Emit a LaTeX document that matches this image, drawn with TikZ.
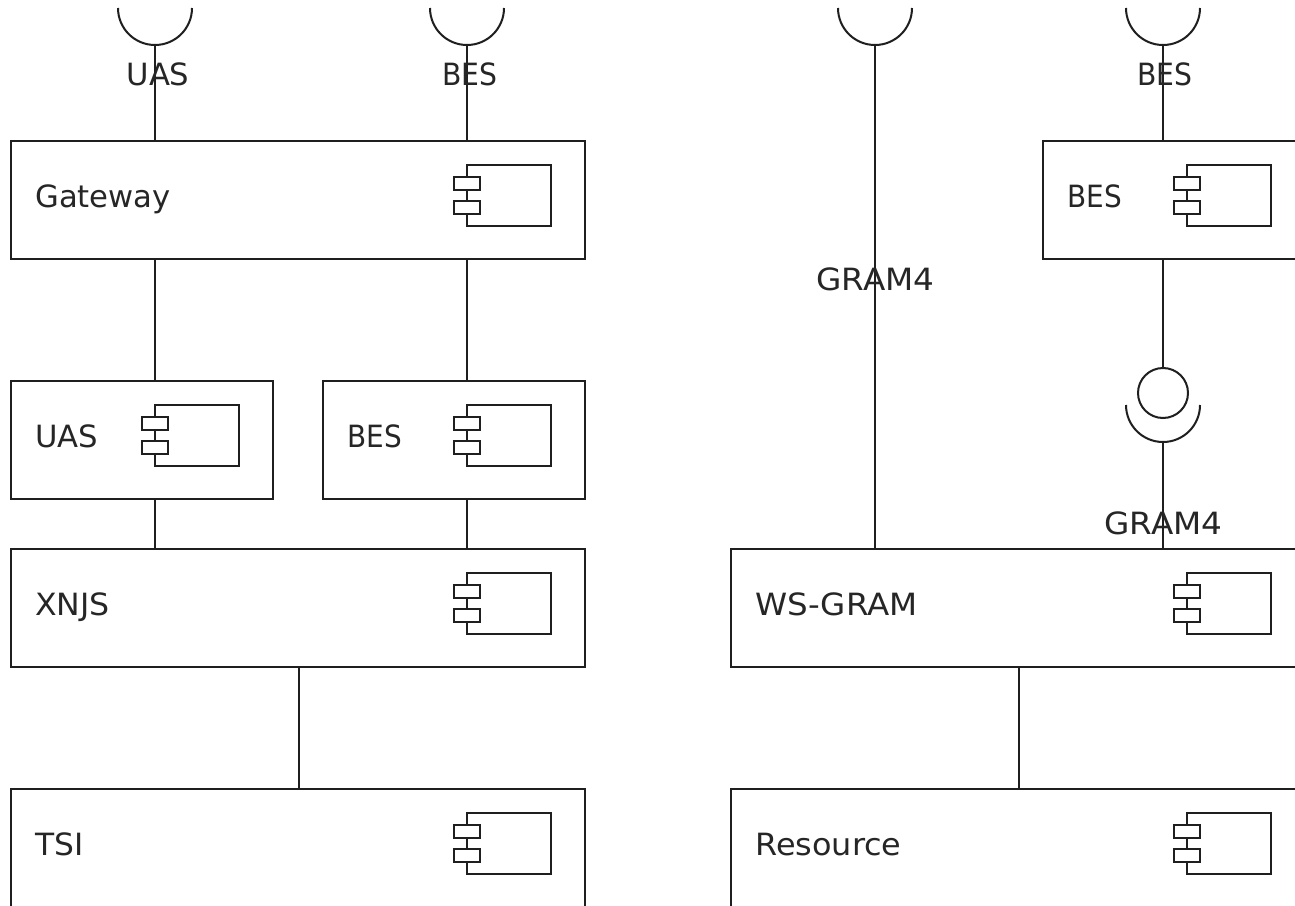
\documentclass[tikz,border=0pt]{standalone}
\usepackage{graphicx}
\usepackage{fontspec}
\setmainfont{DejaVu Sans}
\tikzset{
  px/.style={x=0.75pt,y=-0.75pt},
  wire/.style={line width=1.5pt,draw=black!88},
  compbox/.style={wire,rectangle,inner sep=0pt,outer sep=0pt,anchor=north west,minimum height=88.5pt},
  boxlabel/.style={anchor=base west,inner sep=0pt,text=black!85,font=\fontsize{23pt}{25pt}\selectfont},
  iflabel/.style={anchor=center,inner sep=0pt,text=black!85,font=\fontsize{23pt}{25pt}\selectfont},
  ball/.style={wire,circle,inner sep=0pt,outer sep=0pt,minimum size=37.5pt}
}
% name, left, top, width(px), label, horizontal stretch
\newcommand{\umlcomp}[6]{%
  \node[compbox,minimum width=#4*0.75pt] (#1) at (#2,#3) {};
  \node[boxlabel] (#1l) at (#2+24,#3+66) {\scalebox{#6}[1]{#5}};
}
% right edge, top of box
\newcommand{\umlicon}[2]{%
  \draw[wire,line join=miter] (#1-118,#2+24) rectangle (#1-34,#2+85);
  \draw[wire,fill=white] (#1-131,#2+36) rectangle (#1-105,#2+49);
  \draw[wire,fill=white] (#1-131,#2+60) rectangle (#1-105,#2+73);
}
\newcommand{\umlsocket}[3]{%
  \coordinate (#1) at (#2,#3+37);
  \draw[wire] (#2-37,#3) arc[start angle=180,end angle=360,radius=27.75pt];
}
\begin{document}
\begin{tikzpicture}[px]
\useasboundingbox (0,0) rectangle (1295,906);
\clip (0,0) rectangle (1295,906);
\fill[white] (0,0) rectangle (1295,906);
% left stack
\umlcomp{gw}{11}{141}{574}{Gateway}{1}
\umlcomp{uas}{11}{381}{262}{UAS}{1}
\umlcomp{besa}{323}{381}{262}{BES}{0.91}
\umlcomp{xnjs}{11}{549}{574}{XNJS}{1.03}
\umlcomp{tsi}{11}{789}{574}{TSI}{1.02}
\umlicon{585}{141}
\umlicon{273}{381}
\umlicon{585}{381}
\umlicon{585}{549}
\umlicon{585}{789}
% right stack
\umlcomp{besb}{1043}{141}{262}{BES}{0.91}
\umlcomp{ws}{731}{549}{574}{WS-GRAM}{1.06}
\umlcomp{res}{731}{789}{574}{Resource}{1.04}
\umlicon{1305}{141}
\umlicon{1305}{549}
\umlicon{1305}{789}
% interfaces
\umlsocket{s1}{155}{8}
\umlsocket{s2}{467}{8}
\umlsocket{s3}{875}{8}
\umlsocket{s4}{1163}{8}
\umlsocket{s5}{1163}{405}
\node[ball] (b1) at (1163,393) {};
% connectors
\draw[wire] (s1) -- (gw.north -| s1);
\draw[wire] (s2) -- (gw.north -| s2);
\draw[wire] (s3) -- (ws.north -| s3);
\draw[wire] (s4) -- (besb.north -| s4);
\draw[wire] (gw.south -| s1) -- (uas.north -| s1);
\draw[wire] (gw.south -| s2) -- (besa.north -| s2);
\draw[wire] (uas.south -| s1) -- (xnjs.north -| s1);
\draw[wire] (besa.south -| s2) -- (xnjs.north -| s2);
\coordinate (xdrop) at (299,667);
\draw[wire] (xdrop) -- (tsi.north -| xdrop);
\draw[wire] (besb.south -| s4) -- (b1.north);
\draw[wire] (s5) -- (ws.north -| s5);
\coordinate (wsdrop) at (1019,667);
\draw[wire] (wsdrop) -- (res.north -| wsdrop);
% interface labels
\node[iflabel] (t1) at (158,74) {UAS};
\node[iflabel] (t2) at (470,74) {\scalebox{0.92}[1]{BES}};
\node[iflabel] (t3) at (875.5,279) {\scalebox{1.065}[1]{GRAM4}};
\node[iflabel] (t4) at (1165,74) {\scalebox{0.92}[1]{BES}};
\node[iflabel] (t5) at (1163.5,523) {\scalebox{1.065}[1]{GRAM4}};
\end{tikzpicture}
\end{document}
